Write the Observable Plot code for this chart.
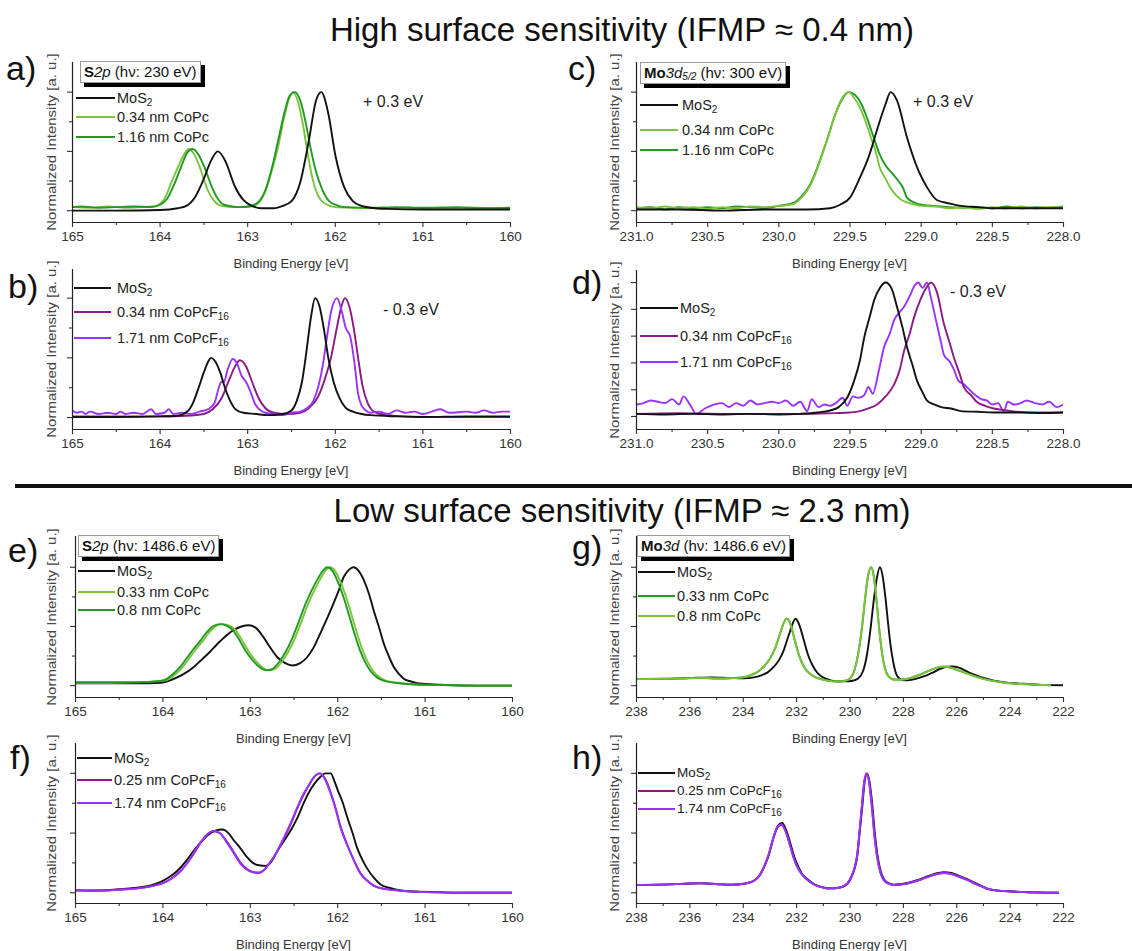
<!DOCTYPE html>
<html><head><meta charset="utf-8">
<script src="https://cdn.jsdelivr.net/npm/d3@7"></script>
<script src="https://cdn.jsdelivr.net/npm/@observablehq/plot@0.6"></script>
<style>
html,body{margin:0;padding:0;background:#fff;}
#fig{position:relative;width:1132px;height:951px;font-family:"Liberation Sans",Arial,sans-serif;color:#111;overflow:hidden;}
.abs{position:absolute;white-space:nowrap;}
.title{font-size:33px;color:#111;}
.plabel{font-size:34px;color:#111;}
.leg{font-size:14.5px;line-height:1;color:#222;}
.leg sub{font-size:10px;vertical-align:-3px;line-height:0;}
.legs{font-size:13.5px;}
.swatch{position:absolute;height:2px;}
.box{position:absolute;border:1px solid #999;background:#fff;box-shadow:4px 4px 0 #000;font-size:15px;padding:0 3px;height:20px;line-height:20px;color:#111;white-space:nowrap;}
.box sub{font-size:10px;vertical-align:-2px;line-height:0;}
.ylab{font-size:15px;color:#444;}
.xlab{font-size:13px;color:#333;}
.ann{font-size:16px;color:#222;}
</style></head><body><div id="fig"></div><script>
// ---------- colours ----------
const cBlack = "#111111", cLightGreen = "#7cc23a", cDarkGreen = "#1f9a22", cDarkPurple = "#8c1a86", cBrightPurple = "#9932ff";

// ---------- tick values ----------
const s2pTicks = [165,164,163,162,161,160];
const s2pMinor = [164.5,163.5,162.5,161.5,160.5];
const mo5Ticks = [231,230.5,230,229.5,229,228.5,228];
const mo5Minor = [230.75,230.25,229.75,229.25,228.75,228.25];
const mo3Ticks = [238,236,234,232,230,228,226,224,222];
const mo3Minor = [237,235,233,231,229,227,225,223];
const yHalf = [0,0.5,1], yQuarter = [0.25,0.75], yFifth = [0,0.2,0.4,0.6,0.8,1];

// ---------- panel a: S2p, hv 230 eV ----------
const a_MoS2 = [[165,0.0],[164.5,0.0],[164.0,0.005],[163.8,0.02],[163.7,0.04],[163.6,0.115],[163.5,0.27],[163.42,0.42],[163.34,0.5],[163.25,0.41],[163.15,0.21],[163.05,0.09],[162.95,0.04],[162.85,0.02],[162.7,0.02],[162.6,0.04],[162.5,0.08],[162.4,0.24],[162.3,0.6],[162.22,0.93],[162.16,1.0],[162.08,0.82],[162.0,0.47],[161.9,0.2],[161.8,0.08],[161.7,0.04],[161.6,0.025],[161.4,0.015],[161.0,0.01],[160.5,0.01],[160.0,0.01]];
const a_CoPc034 = [[165,0.03],[164.8,0.025],[164.6,0.035],[164.4,0.025],[164.2,0.03],[164.05,0.04],[163.95,0.1],[163.87,0.24],[163.8,0.36],[163.73,0.47],[163.67,0.52],[163.6,0.46],[163.53,0.33],[163.46,0.18],[163.38,0.08],[163.3,0.04],[163.15,0.03],[163.0,0.03],[162.9,0.05],[162.8,0.16],[162.72,0.35],[162.65,0.55],[162.58,0.8],[162.52,0.96],[162.48,1.0],[162.43,0.93],[162.37,0.73],[162.32,0.5],[162.26,0.27],[162.2,0.13],[162.12,0.06],[162.0,0.03],[161.8,0.025],[161.5,0.02],[161.2,0.025],[161.0,0.02],[160.7,0.02],[160.4,0.025],[160.0,0.02]];
const a_CoPc116 = [[165,0.03],[164.9,0.035],[164.7,0.025],[164.5,0.03],[164.3,0.035],[164.1,0.03],[164.0,0.05],[163.92,0.1],[163.84,0.22],[163.76,0.37],[163.69,0.49],[163.63,0.52],[163.56,0.47],[163.49,0.36],[163.42,0.22],[163.35,0.11],[163.27,0.05],[163.1,0.03],[163.0,0.035],[162.9,0.06],[162.8,0.17],[162.72,0.37],[162.65,0.6],[162.58,0.83],[162.52,0.97],[162.46,1.0],[162.4,0.93],[162.34,0.75],[162.28,0.52],[162.22,0.33],[162.15,0.18],[162.07,0.08],[162.0,0.05],[161.9,0.03],[161.6,0.025],[161.3,0.03],[161.0,0.025],[160.6,0.03],[160.3,0.02],[160.0,0.025]];

// ---------- panel b: S2p, hv 230 eV, CoPcF16 ----------
const b_MoS2 = [[165,0.005],[164.5,0.005],[164.0,0.01],[163.8,0.015],[163.69,0.05],[163.62,0.13],[163.56,0.25],[163.5,0.38],[163.45,0.47],[163.42,0.5],[163.37,0.47],[163.31,0.37],[163.26,0.25],[163.2,0.14],[163.14,0.07],[163.05,0.04],[162.9,0.03],[162.78,0.02],[162.6,0.03],[162.5,0.06],[162.44,0.14],[162.38,0.3],[162.33,0.55],[162.28,0.83],[162.23,1.0],[162.18,0.93],[162.13,0.74],[162.08,0.5],[162.02,0.3],[161.95,0.16],[161.88,0.08],[161.8,0.05],[161.7,0.03],[161.6,0.02],[161.3,0.01],[161.0,0.005],[160.5,0.01],[160.0,0.01]];
const b_F16_034 = [[165,0.01],[164.5,0.01],[164.0,0.01],[163.7,0.015],[163.5,0.03],[163.4,0.07],[163.3,0.16],[163.22,0.3],[163.15,0.42],[163.09,0.48],[163.02,0.43],[162.95,0.3],[162.88,0.17],[162.8,0.08],[162.7,0.04],[162.55,0.03],[162.4,0.04],[162.3,0.08],[162.2,0.17],[162.12,0.32],[162.05,0.5],[161.98,0.76],[161.93,0.93],[161.89,1.0],[161.84,0.93],[161.79,0.75],[161.74,0.5],[161.69,0.27],[161.63,0.12],[161.56,0.05],[161.45,0.025],[161.2,0.01],[160.8,0.005],[160.0,0.005]];
const b_F16_171 = [[165,0.06],[164.95,0.04],[164.9,0.05],[164.85,0.03],[164.8,0.05],[164.7,0.03],[164.6,0.04],[164.5,0.03],[164.45,0.05],[164.4,0.03],[164.3,0.04],[164.2,0.03],[164.1,0.07],[164.05,0.03],[163.95,0.04],[163.9,0.07],[163.85,0.03],[163.75,0.04],[163.65,0.03],[163.55,0.05],[163.45,0.07],[163.38,0.12],[163.33,0.25],[163.3,0.3],[163.27,0.3],[163.23,0.4],[163.17,0.49],[163.12,0.45],[163.07,0.35],[163.02,0.3],[162.97,0.22],[162.92,0.12],[162.87,0.07],[162.8,0.04],[162.7,0.03],[162.6,0.02],[162.5,0.04],[162.4,0.05],[162.32,0.08],[162.25,0.14],[162.19,0.27],[162.14,0.45],[162.1,0.65],[162.05,0.88],[161.98,1.0],[161.93,0.9],[161.88,0.75],[161.83,0.68],[161.78,0.45],[161.74,0.2],[161.7,0.1],[161.65,0.06],[161.6,0.04],[161.5,0.05],[161.4,0.03],[161.3,0.06],[161.2,0.04],[161.1,0.05],[161.0,0.03],[160.9,0.05],[160.8,0.07],[160.7,0.04],[160.5,0.05],[160.4,0.04],[160.3,0.06],[160.2,0.04],[160.1,0.05],[160.0,0.05]];

// ---------- panel c: Mo3d5/2, hv 300 eV ----------
const c_MoS2 = [[231.0,0.01],[230.7,0.01],[230.4,0.0],[230.1,0.01],[229.8,0.01],[229.64,0.02],[229.57,0.05],[229.5,0.11],[229.43,0.28],[229.37,0.45],[229.3,0.72],[229.25,0.9],[229.215,1.0],[229.17,0.93],[229.1,0.62],[229.02,0.34],[228.96,0.2],[228.89,0.09],[228.8,0.06],[228.72,0.04],[228.6,0.03],[228.49,0.02],[228.3,0.02],[228.0,0.02]];
const c_CoPc034 = [[231.0,0.03],[230.9,0.02],[230.8,0.035],[230.7,0.02],[230.6,0.03],[230.5,0.015],[230.4,0.03],[230.3,0.02],[230.2,0.035],[230.1,0.03],[230.0,0.04],[229.95,0.045],[229.89,0.06],[229.85,0.1],[229.8,0.17],[229.75,0.29],[229.71,0.42],[229.66,0.6],[229.61,0.79],[229.56,0.94],[229.51,1.0],[229.47,0.95],[229.43,0.87],[229.39,0.75],[229.36,0.64],[229.32,0.5],[229.29,0.36],[229.25,0.27],[229.22,0.2],[229.15,0.1],[229.06,0.056],[229.0,0.04],[228.9,0.035],[228.8,0.02],[228.7,0.03],[228.6,0.015],[228.5,0.03],[228.4,0.02],[228.3,0.035],[228.2,0.02],[228.1,0.03],[228.0,0.03]];
const c_CoPc116 = [[231.0,0.02],[230.9,0.03],[230.8,0.01],[230.7,0.03],[230.6,0.02],[230.5,0.03],[230.4,0.02],[230.3,0.035],[230.2,0.03],[230.1,0.02],[230.0,0.04],[229.95,0.05],[229.89,0.07],[229.85,0.11],[229.8,0.18],[229.75,0.3],[229.71,0.43],[229.66,0.6],[229.61,0.79],[229.56,0.93],[229.51,1.0],[229.46,0.97],[229.42,0.9],[229.38,0.78],[229.34,0.64],[229.29,0.47],[229.25,0.38],[229.2,0.31],[229.16,0.25],[229.13,0.2],[229.1,0.11],[229.05,0.07],[229.0,0.05],[228.9,0.04],[228.8,0.03],[228.7,0.025],[228.6,0.03],[228.5,0.02],[228.4,0.035],[228.3,0.02],[228.2,0.03],[228.1,0.025],[228.0,0.035]];

// ---------- panel d: Mo3d5/2, hv 300 eV, CoPcF16 ----------
const d_MoS2 = [[231,0.02],[230.8,0.015],[230.6,0.02],[230.4,0.015],[230.2,0.02],[230.0,0.015],[229.85,0.02],[229.73,0.03],[229.64,0.045],[229.58,0.07],[229.52,0.14],[229.47,0.27],[229.43,0.42],[229.4,0.59],[229.36,0.75],[229.33,0.87],[229.29,0.96],[229.25,1.0],[229.21,0.96],[229.17,0.82],[229.13,0.66],[229.1,0.52],[229.06,0.38],[229.03,0.27],[228.99,0.18],[228.96,0.12],[228.91,0.09],[228.86,0.07],[228.79,0.06],[228.72,0.04],[228.6,0.035],[228.49,0.03],[228.3,0.03],[228.15,0.025],[228.0,0.03]];
const d_F16_034 = [[231,0.02],[230.7,0.025],[230.4,0.02],[230.1,0.02],[229.8,0.02],[229.6,0.025],[229.5,0.03],[229.43,0.04],[229.37,0.06],[229.31,0.09],[229.25,0.15],[229.19,0.24],[229.15,0.35],[229.12,0.49],[229.08,0.62],[229.05,0.74],[229.01,0.86],[228.97,0.95],[228.93,1.0],[228.89,0.93],[228.84,0.69],[228.8,0.55],[228.77,0.44],[228.73,0.32],[228.7,0.22],[228.65,0.16],[228.61,0.11],[228.55,0.08],[228.49,0.06],[228.4,0.045],[228.25,0.03],[228.1,0.03],[228.0,0.03]];
const d_F16_171 = [[231.0,0.09],[230.95,0.1],[230.9,0.12],[230.85,0.11],[230.8,0.1],[230.75,0.13],[230.7,0.09],[230.67,0.15],[230.62,0.08],[230.58,0.02],[230.52,0.06],[230.45,0.09],[230.4,0.1],[230.35,0.07],[230.3,0.1],[230.25,0.08],[230.2,0.12],[230.15,0.09],[230.1,0.1],[230.05,0.11],[230.0,0.1],[229.95,0.12],[229.9,0.08],[229.85,0.11],[229.8,0.04],[229.77,0.13],[229.72,0.07],[229.68,0.09],[229.64,0.08],[229.6,0.1],[229.55,0.14],[229.52,0.08],[229.48,0.15],[229.44,0.14],[229.4,0.16],[229.37,0.22],[229.34,0.17],[229.3,0.33],[229.26,0.52],[229.22,0.62],[229.19,0.72],[229.15,0.78],[229.12,0.82],[229.08,0.9],[229.05,0.97],[229.02,1.0],[228.99,0.96],[228.96,1.0],[228.93,0.88],[228.89,0.69],[228.86,0.55],[228.84,0.46],[228.8,0.41],[228.77,0.35],[228.74,0.27],[228.7,0.24],[228.66,0.2],[228.62,0.16],[228.58,0.13],[228.54,0.12],[228.5,0.09],[228.46,0.1],[228.42,0.04],[228.39,0.11],[228.35,0.09],[228.3,0.1],[228.26,0.12],[228.2,0.1],[228.15,0.09],[228.1,0.11],[228.05,0.07],[228.0,0.09]];

// ---------- panel e: S2p, hv 1486.6 eV ----------
const e_MoS2 = [[165,0.02],[164.6,0.02],[164.3,0.02],[164.03,0.025],[163.9,0.05],[163.76,0.1],[163.66,0.15],[163.57,0.21],[163.47,0.28],[163.38,0.35],[163.28,0.42],[163.19,0.47],[163.1,0.5],[163.02,0.51],[162.94,0.49],[162.85,0.41],[162.77,0.32],[162.69,0.24],[162.6,0.19],[162.52,0.17],[162.43,0.19],[162.35,0.24],[162.27,0.33],[162.2,0.44],[162.12,0.57],[162.05,0.69],[161.99,0.8],[161.93,0.92],[161.87,0.98],[161.82,1.0],[161.76,0.97],[161.7,0.89],[161.64,0.77],[161.59,0.64],[161.53,0.5],[161.47,0.35],[161.41,0.24],[161.36,0.16],[161.3,0.1],[161.24,0.057],[161.16,0.035],[161.09,0.02],[160.9,0.01],[160.7,0.005],[160.4,0.0],[160.0,0.0]];
const e_CoPc033 = [[165,0.025],[164.6,0.025],[164.3,0.028],[164.0,0.04],[163.92,0.06],[163.85,0.1],[163.77,0.16],[163.69,0.24],[163.62,0.31],[163.54,0.38],[163.47,0.45],[163.4,0.5],[163.32,0.52],[163.25,0.51],[163.17,0.47],[163.09,0.38],[163.02,0.29],[162.95,0.22],[162.87,0.16],[162.79,0.13],[162.72,0.14],[162.64,0.2],[162.57,0.28],[162.49,0.4],[162.42,0.53],[162.35,0.67],[162.27,0.8],[162.2,0.9],[162.14,0.97],[162.09,1.0],[162.03,0.97],[161.97,0.88],[161.9,0.74],[161.83,0.57],[161.77,0.42],[161.71,0.29],[161.65,0.19],[161.59,0.12],[161.52,0.07],[161.44,0.04],[161.32,0.025],[161.1,0.01],[160.8,0.005],[160.4,0.0],[160.0,0.0]];
const e_CoPc08 = [[165,0.03],[164.6,0.03],[164.3,0.03],[164.03,0.04],[163.95,0.06],[163.88,0.1],[163.8,0.16],[163.72,0.24],[163.65,0.31],[163.57,0.38],[163.5,0.45],[163.43,0.5],[163.35,0.52],[163.28,0.51],[163.2,0.47],[163.12,0.38],[163.05,0.29],[162.98,0.22],[162.9,0.16],[162.82,0.13],[162.75,0.14],[162.67,0.2],[162.6,0.28],[162.52,0.4],[162.45,0.53],[162.38,0.67],[162.3,0.8],[162.23,0.9],[162.17,0.97],[162.12,1.0],[162.06,0.97],[162.0,0.88],[161.93,0.74],[161.86,0.57],[161.8,0.42],[161.74,0.29],[161.68,0.19],[161.62,0.12],[161.55,0.07],[161.47,0.04],[161.35,0.025],[161.1,0.01],[160.8,0.005],[160.4,0.0],[160.0,0.0]];

// ---------- panel f: S2p, hv 1486.6 eV, CoPcF16 ----------
const f_MoS2 = [[165,0.02],[164.71,0.02],[164.5,0.03],[164.33,0.04],[164.15,0.06],[164.03,0.09],[163.93,0.13],[163.84,0.18],[163.74,0.26],[163.65,0.35],[163.57,0.42],[163.49,0.48],[163.4,0.52],[163.32,0.53],[163.25,0.5],[163.19,0.44],[163.11,0.37],[163.04,0.3],[162.97,0.25],[162.9,0.23],[162.82,0.225],[162.76,0.26],[162.69,0.35],[162.6,0.45],[162.54,0.52],[162.46,0.63],[162.39,0.75],[162.33,0.84],[162.27,0.91],[162.2,0.97],[162.14,1.0],[162.08,1.0],[162.04,0.94],[162.0,0.86],[161.94,0.75],[161.89,0.63],[161.83,0.5],[161.78,0.38],[161.72,0.28],[161.66,0.2],[161.58,0.12],[161.51,0.07],[161.4,0.04],[161.28,0.02],[161.1,0.01],[160.85,0.005],[160.5,0.0],[160.0,0.0]];
const f_F16_025 = [[165,0.02],[164.8,0.018],[164.5,0.027],[164.3,0.037],[164.1,0.06],[164.0,0.08],[163.9,0.12],[163.8,0.18],[163.7,0.27],[163.61,0.37],[163.55,0.44],[163.49,0.49],[163.42,0.515],[163.35,0.5],[163.26,0.42],[163.18,0.33],[163.11,0.25],[163.03,0.195],[162.96,0.172],[162.9,0.17],[162.83,0.2],[162.78,0.245],[162.73,0.3],[162.63,0.43],[162.54,0.57],[162.46,0.71],[162.39,0.82],[162.33,0.9],[162.29,0.95],[162.24,0.99],[162.2,1.0],[162.14,0.95],[162.08,0.84],[162.02,0.7],[161.97,0.56],[161.91,0.44],[161.85,0.33],[161.79,0.235],[161.74,0.165],[161.66,0.1],[161.59,0.06],[161.45,0.03],[161.28,0.017],[161.0,0.005],[160.5,0.0],[160.0,0.0]];
const f_F16_174 = [[165,0.02],[164.8,0.015],[164.5,0.025],[164.3,0.035],[164.1,0.06],[164.0,0.08],[163.9,0.12],[163.8,0.18],[163.7,0.27],[163.61,0.38],[163.55,0.44],[163.49,0.49],[163.42,0.52],[163.35,0.5],[163.26,0.41],[163.18,0.32],[163.11,0.24],[163.03,0.19],[162.96,0.17],[162.9,0.165],[162.83,0.2],[162.78,0.25],[162.73,0.3],[162.63,0.44],[162.54,0.58],[162.46,0.72],[162.39,0.83],[162.33,0.9],[162.29,0.95],[162.24,0.99],[162.2,1.0],[162.14,0.94],[162.08,0.83],[162.02,0.69],[161.97,0.55],[161.91,0.43],[161.85,0.33],[161.79,0.23],[161.74,0.16],[161.66,0.1],[161.59,0.06],[161.45,0.03],[161.28,0.017],[161.0,0.005],[160.5,0.0],[160.0,0.0]];

// ---------- panel g: Mo3d, hv 1486.6 eV ----------
const g_MoS2 = [[238,0.056],[237,0.057],[236,0.065],[235.2,0.07],[234.5,0.065],[234,0.062],[233.6,0.07],[233.35,0.085],[233.1,0.11],[232.85,0.16],[232.65,0.22],[232.48,0.3],[232.35,0.39],[232.23,0.47],[232.12,0.54],[232.04,0.565],[231.95,0.54],[231.85,0.48],[231.75,0.4],[231.64,0.31],[231.54,0.24],[231.4,0.17],[231.23,0.11],[231.05,0.075],[230.86,0.055],[230.6,0.038],[230.48,0.035],[230.2,0.036],[229.9,0.042],[229.7,0.06],[229.5,0.13],[229.35,0.28],[229.22,0.5],[229.11,0.72],[229.0,0.9],[228.88,1.0],[228.78,0.93],[228.67,0.74],[228.57,0.52],[228.48,0.34],[228.38,0.2],[228.3,0.12],[228.15,0.06],[227.98,0.045],[227.7,0.05],[227.36,0.07],[227.1,0.09],[226.86,0.115],[226.6,0.145],[226.35,0.16],[226.17,0.162],[225.95,0.155],[225.7,0.13],[225.49,0.105],[225.25,0.085],[224.99,0.065],[224.61,0.042],[224.2,0.028],[223.8,0.02],[223.36,0.014],[222.8,0.007],[222,0.003]];
const g_CoPc033 = [[238,0.056],[237,0.058],[236,0.064],[235.5,0.065],[235,0.061],[234.5,0.063],[234,0.071],[233.7,0.09],[233.45,0.118],[233.2,0.168],[233.0,0.228],[232.8,0.318],[232.65,0.418],[232.52,0.508],[232.38,0.568],[232.27,0.545],[232.17,0.475],[232.07,0.385],[231.96,0.295],[231.84,0.215],[231.7,0.152],[231.5,0.102],[231.3,0.072],[231.1,0.056],[230.8,0.041],[230.5,0.036],[230.2,0.041],[230.0,0.061],[229.85,0.12],[229.7,0.26],[229.55,0.49],[229.43,0.74],[229.32,0.93],[229.21,1.0],[229.11,0.93],[229.0,0.71],[228.9,0.47],[228.8,0.28],[228.7,0.155],[228.55,0.078],[228.35,0.052],[228.1,0.052],[227.8,0.062],[227.4,0.092],[227.0,0.13],[226.7,0.155],[226.49,0.16],[226.25,0.153],[226.0,0.134],[225.7,0.11],[225.4,0.086],[225.0,0.058],[224.6,0.038],[224.2,0.025],[223.8,0.017],[223.3,0.011],[222.8,0.006],[222.5,0.004]];
const g_CoPc08 = [[238,0.055],[237,0.058],[236,0.062],[235.5,0.066],[235,0.06],[234.5,0.062],[234,0.07],[233.7,0.09],[233.45,0.12],[233.2,0.17],[233.0,0.23],[232.8,0.32],[232.65,0.42],[232.52,0.51],[232.38,0.565],[232.27,0.54],[232.17,0.47],[232.07,0.38],[231.96,0.29],[231.84,0.21],[231.7,0.15],[231.5,0.1],[231.3,0.07],[231.1,0.055],[230.8,0.04],[230.5,0.035],[230.2,0.04],[230.0,0.06],[229.85,0.12],[229.7,0.26],[229.55,0.5],[229.43,0.75],[229.32,0.94],[229.21,1.0],[229.11,0.92],[229.0,0.7],[228.9,0.46],[228.8,0.27],[228.7,0.15],[228.55,0.075],[228.35,0.05],[228.1,0.05],[227.8,0.06],[227.4,0.09],[227.0,0.13],[226.7,0.155],[226.49,0.162],[226.25,0.155],[226.0,0.135],[225.7,0.11],[225.4,0.085],[225.0,0.058],[224.6,0.038],[224.2,0.025],[223.8,0.017],[223.3,0.011],[222.8,0.006],[222.5,0.004]];

// ---------- panel h: Mo3d, hv 1486.6 eV, CoPcF16 ----------
const h_MoS2 = [[238,0.065],[237.5,0.066],[237,0.068],[236.5,0.072],[236,0.078],[235.6,0.08],[235.2,0.075],[234.8,0.07],[234.4,0.068],[234.0,0.075],[233.8,0.085],[233.6,0.1],[233.4,0.14],[233.23,0.21],[233.05,0.31],[232.86,0.465],[232.7,0.56],[232.54,0.585],[232.4,0.53],[232.23,0.41],[232.1,0.31],[231.98,0.24],[231.8,0.16],[231.6,0.115],[231.4,0.08],[231.23,0.06],[231.0,0.045],[230.86,0.038],[230.6,0.037],[230.35,0.045],[230.1,0.075],[229.95,0.13],[229.83,0.2],[229.73,0.3],[229.64,0.5],[229.54,0.72],[229.45,0.93],[229.36,1.0],[229.27,0.93],[229.17,0.75],[229.07,0.5],[228.98,0.33],[228.85,0.18],[228.73,0.115],[228.55,0.08],[228.36,0.068],[228.0,0.075],[227.7,0.09],[227.36,0.115],[227.0,0.145],[226.7,0.165],[226.49,0.172],[226.2,0.165],[225.9,0.14],[225.61,0.115],[225.3,0.08],[225.0,0.05],[224.86,0.035],[224.5,0.02],[223.99,0.012],[223.5,0.006],[223,0.003],[222.2,0.0]];
const h_F16_025 = [[238,0.064],[237.5,0.066],[237,0.068],[236.5,0.072],[236,0.078],[235.6,0.08],[235.2,0.075],[234.8,0.07],[234.4,0.067],[234.0,0.073],[233.8,0.083],[233.6,0.1],[233.4,0.143],[233.23,0.213],[233.05,0.318],[232.86,0.468],[232.7,0.553],[232.56,0.57],[232.42,0.518],[232.25,0.398],[232.12,0.298],[232.0,0.228],[231.8,0.153],[231.6,0.108],[231.4,0.076],[231.23,0.057],[231.0,0.043],[230.86,0.037],[230.6,0.037],[230.35,0.046],[230.1,0.077],[229.95,0.133],[229.83,0.208],[229.73,0.318],[229.64,0.518],[229.55,0.738],[229.46,0.938],[229.37,1.0],[229.28,0.918],[229.18,0.718],[229.08,0.468],[228.99,0.308],[228.86,0.168],[228.74,0.108],[228.55,0.076],[228.36,0.065],[228.0,0.071],[227.7,0.086],[227.36,0.109],[227.0,0.139],[226.7,0.159],[226.49,0.164],[226.2,0.157],[225.9,0.133],[225.61,0.107],[225.3,0.074],[225.0,0.046],[224.86,0.033],[224.5,0.019],[223.99,0.01],[223.5,0.005],[223,0.002],[222.2,0.0]];
const h_F16_174 = [[238,0.065],[237.5,0.067],[237,0.069],[236.5,0.073],[236,0.079],[235.6,0.081],[235.2,0.076],[234.8,0.07],[234.4,0.068],[234.0,0.074],[233.8,0.084],[233.6,0.1],[233.4,0.145],[233.23,0.215],[233.05,0.32],[232.86,0.47],[232.7,0.555],[232.56,0.572],[232.42,0.52],[232.25,0.4],[232.12,0.3],[232.0,0.23],[231.8,0.155],[231.6,0.11],[231.4,0.077],[231.23,0.058],[231.0,0.044],[230.86,0.037],[230.6,0.037],[230.35,0.046],[230.1,0.078],[229.95,0.135],[229.83,0.21],[229.73,0.32],[229.64,0.52],[229.55,0.74],[229.46,0.94],[229.37,1.0],[229.28,0.92],[229.18,0.72],[229.08,0.47],[228.99,0.31],[228.86,0.17],[228.74,0.11],[228.55,0.077],[228.36,0.066],[228.0,0.072],[227.7,0.087],[227.36,0.11],[227.0,0.14],[226.7,0.16],[226.49,0.165],[226.2,0.158],[225.9,0.134],[225.61,0.108],[225.3,0.075],[225.0,0.047],[224.86,0.034],[224.5,0.02],[223.99,0.011],[223.5,0.005],[223,0.002],[222.2,0.0]];

// ---------- texts ----------
const titleHigh = "High surface sensitivity (IFMP ≈ 0.4 nm)";
const titleLow = "Low surface sensitivity (IFMP ≈ 2.3 nm)";
const yLabel = "Normalized Intensity [a. u.]";
const xLabel = "Binding Energy [eV]";
const namesCoPc_a = ["MoS<sub>2</sub>", "0.34 nm CoPc", "1.16 nm CoPc"];
const namesF16_b = ["MoS<sub>2</sub>", "0.34 nm CoPcF<sub>16</sub>", "1.71 nm CoPcF<sub>16</sub>"];
const namesCoPc_e = ["MoS<sub>2</sub>", "0.33 nm CoPc", "0.8 nm CoPc"];
const namesF16_f = ["MoS<sub>2</sub>", "0.25 nm CoPcF<sub>16</sub>", "1.74 nm CoPcF<sub>16</sub>"];
const boxS2pSoft = "<b>S</b><i>2p</i> (hν: 230 eV)";
const boxMoSoft = "<b>Mo</b><i>3d<sub>5/2</sub></i> (hν: 300 eV)";
const boxS2pHard = "<b>S</b><i>2p</i> (hν: 1486.6 eV)";
const boxMoHard = "<b>Mo</b><i>3d</i> (hν: 1486.6 eV)";
const shiftPlus = "+ 0.3 eV", shiftMinus = "- 0.3 eV";

// ---------- layout ----------
const fmtInt = d3.format("d"), fmt1 = d3.format(".1f");
const panels = [
  {label:"a)", lx:6, ly:68, col:0, fl:72, fr:510, ft:62, fb:222, xd:[165,160], yd:[-0.1,1.25], xMaj:s2pTicks, xMin:s2pMinor, yMaj:yHalf, yMin:yQuarter, fmt:fmtInt,
   series:[{d:a_CoPc034,c:cLightGreen},{d:a_CoPc116,c:cDarkGreen},{d:a_MoS2,c:cBlack}],
   leg:{x1:76,x2:115,tx:117,ys:[98,117,137],names:namesCoPc_a,colors:[cBlack,cLightGreen,cDarkGreen]},
   box:{x:80,y:61,html:boxS2pSoft}, ann:{x:363,y:102,t:shiftPlus}},
  {label:"b)", lx:8, ly:286, col:0, fl:72, fr:510, ft:269, fb:429, xd:[165,160], yd:[-0.1,1.24], xMaj:s2pTicks, xMin:s2pMinor, yMaj:yHalf, yMin:yQuarter, fmt:fmtInt,
   series:[{d:b_F16_034,c:cDarkPurple},{d:b_F16_171,c:cBrightPurple},{d:b_MoS2,c:cBlack}],
   leg:{x1:74,x2:111,tx:117,ys:[288,312,338],names:namesF16_b,colors:[cBlack,cDarkPurple,cBrightPurple]},
   ann:{x:383,y:310,t:shiftMinus}},
  {label:"c)", lx:568, ly:68, col:1, fl:636, fr:1063, ft:62, fb:222, xd:[231,228], yd:[-0.1,1.25], xMaj:mo5Ticks, xMin:mo5Minor, yMaj:yHalf, yMin:yQuarter, fmt:fmt1,
   series:[{d:c_CoPc116,c:cDarkGreen},{d:c_CoPc034,c:cLightGreen},{d:c_MoS2,c:cBlack}],
   leg:{x1:640,x2:678,tx:682,ys:[105,130,150],names:namesCoPc_a,colors:[cBlack,cLightGreen,cDarkGreen]},
   box:{x:640,y:62,html:boxMoSoft}, ann:{x:913,y:102,t:shiftPlus}},
  {label:"d)", lx:572, ly:282, col:1, fl:636, fr:1063, ft:270, fb:429, xd:[231,228], yd:[-0.097,1.09], xMaj:mo5Ticks, xMin:mo5Minor, yMaj:yFifth, yMin:[], fmt:fmt1,
   series:[{d:d_F16_171,c:cBrightPurple},{d:d_F16_034,c:cDarkPurple},{d:d_MoS2,c:cBlack}],
   leg:{x1:640,x2:678,tx:680,ys:[308,336,362],names:namesF16_b,colors:[cBlack,cDarkPurple,cBrightPurple]},
   ann:{x:950,y:292,t:shiftMinus}},
  {label:"e)", lx:8, ly:550, col:0, fl:75, fr:512, ft:536, fb:697, xd:[165,160], yd:[-0.1,1.26], xMaj:s2pTicks, xMin:s2pMinor, yMaj:yHalf, yMin:yQuarter, fmt:fmtInt,
   series:[{d:e_MoS2,c:cBlack},{d:e_CoPc033,c:cLightGreen},{d:e_CoPc08,c:cDarkGreen}],
   leg:{x1:78,x2:115,tx:117,ys:[571,592,610],names:namesCoPc_e,colors:[cBlack,cLightGreen,cDarkGreen]},
   box:{x:78,y:535,html:boxS2pHard}},
  {label:"f)", lx:10, ly:757, col:0, fl:75, fr:512, ft:743, fb:903, xd:[165,160], yd:[-0.09,1.25], xMaj:s2pTicks, xMin:s2pMinor, yMaj:yHalf, yMin:yQuarter, fmt:fmtInt,
   series:[{d:f_MoS2,c:cBlack},{d:f_F16_025,c:cDarkPurple},{d:f_F16_174,c:cBrightPurple}],
   leg:{x1:77,x2:112,tx:114,ys:[758,780,803],names:namesF16_f,colors:[cBlack,cDarkPurple,cBrightPurple]}},
  {label:"g)", lx:572, ly:547, col:1, fl:636, fr:1063, ft:536, fb:697, xd:[238,222], yd:[-0.1,1.26], xMaj:mo3Ticks, xMin:mo3Minor, yMaj:yHalf, yMin:yQuarter, fmt:fmtInt,
   series:[{d:g_MoS2,c:cBlack},{d:g_CoPc033,c:cDarkGreen},{d:g_CoPc08,c:cLightGreen}],
   leg:{x1:638,x2:675,tx:677,ys:[572,596,616],names:namesCoPc_e,colors:[cBlack,cDarkGreen,cLightGreen]},
   box:{x:637,y:535,html:boxMoHard}},
  {label:"h)", lx:572, ly:757, col:1, fl:636, fr:1063, ft:743, fb:903, xd:[238,222], yd:[-0.09,1.25], xMaj:mo3Ticks, xMin:mo3Minor, yMaj:yHalf, yMin:yQuarter, fmt:fmtInt,
   series:[{d:h_MoS2,c:cBlack},{d:h_F16_025,c:cDarkPurple},{d:h_F16_174,c:cBrightPurple}],
   leg:{x1:638,x2:675,tx:677,ys:[773,791,809],names:namesF16_f,colors:[cBlack,cDarkPurple,cBrightPurple]}, small:true}
];

const fig = document.getElementById("fig");
function addDiv(html, cls, style) {
  const d = document.createElement("div");
  d.className = "abs " + (cls || "");
  d.innerHTML = html;
  Object.assign(d.style, style);
  fig.appendChild(d);
  return d;
}
function textAt(html, x, y, cls, anchor) {
  const tx = anchor === "middle" ? "-50%" : "0";
  return addDiv(html, cls, {left: x + "px", top: y + "px", transform: `translate(${tx},-50%)`});
}

for (const p of panels) {
  const left = p.col === 0 ? 0 : 560, width = p.col === 0 ? 560 : 572;
  const top = p.ft - 10, height = p.fb - p.ft + 10 + 32;
  const marks = [
    Plot.axisX({ticks: p.xMaj, tickSize: 5, tickPadding: 4, tickFormat: p.fmt, fontSize: 13.5, label: null, strokeWidth: 1.1}),
    Plot.axisX({ticks: p.xMin, tickSize: 3, tickFormat: () => "", label: null, strokeWidth: 1.1}),
    Plot.axisY({ticks: p.yMaj, tickSize: 5, tickFormat: () => "", label: null, strokeWidth: 1.1}),
    ...(p.yMin.length ? [Plot.axisY({ticks: p.yMin, tickSize: 3, tickFormat: () => "", label: null, strokeWidth: 1.1})] : []),
    ...p.series.map(s => Plot.line(s.d, {x: d => d[0], y: d => d[1], stroke: s.c, strokeWidth: 1.9, curve: "monotone-x", clip: true})),
    Plot.ruleX([p.xd[0]], {stroke: "#222", strokeWidth: 1.2}),
    Plot.ruleY([p.yd[0]], {stroke: "#222", strokeWidth: 1.2})
  ];
  const svg = Plot.plot({
    width, height,
    marginLeft: p.fl - left, marginRight: left + width - p.fr, marginTop: 10, marginBottom: 32,
    x: {domain: p.xd, label: null},
    y: {domain: p.yd, label: null},
    style: {fontFamily: '"Liberation Sans", Arial, sans-serif', color: "#333", background: "transparent", overflow: "visible"},
    marks
  });
  svg.style.position = "absolute";
  svg.style.left = left + "px";
  svg.style.top = top + "px";
  fig.appendChild(svg);

  // axis titles
  const cy = (p.ft + p.fb) / 2;
  addDiv(yLabel, "ylab", {left: (p.col === 0 ? 52 : 615) + "px", top: cy + "px", transform: "translate(-50%,-50%) rotate(-90deg) scale(1,0.8)"});
  textAt(xLabel, (p.fl + p.fr) / 2, p.fb + 41, "xlab", "middle");
  // panel label
  textAt(p.label, p.lx, p.ly, "plabel");
  // legend
  p.leg.ys.forEach((y, i) => {
    addDiv("", "swatch", {left: p.leg.x1 + "px", top: (y - 1) + "px", width: (p.leg.x2 - p.leg.x1) + "px", background: p.leg.colors[i]});
    textAt(p.leg.names[i], p.leg.tx, y, "leg" + (p.small ? " legs" : ""));
  });
  if (p.box) addDiv(p.box.html, "box", {left: p.box.x + "px", top: p.box.y + "px"});
  if (p.ann) textAt(p.ann.t, p.ann.x, p.ann.y, "ann");
}

// headline titles & divider
textAt(titleHigh, 622, 30, "title", "middle");
textAt(titleLow, 622, 511, "title", "middle");
addDiv("", "", {left: "15px", top: "484px", width: "1117px", height: "4px", background: "#111"});
</script></body></html>
